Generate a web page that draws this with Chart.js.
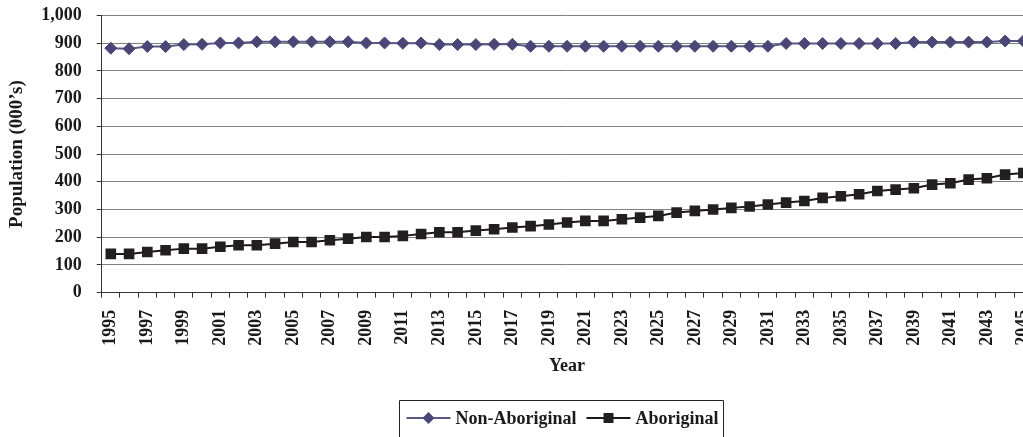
<!DOCTYPE html>
<html>
<head>
<meta charset="utf-8">
<script src="https://cdn.jsdelivr.net/npm/chart.js@4"></script>
<style>
  html, body { margin: 0; padding: 0; background: #fff; overflow: hidden; }
  #clip { width: 1023px; height: 437px; overflow: hidden; position: relative; }
  #myChart { display: block; }
</style>
</head>
<body>
<div id="clip"><canvas id="myChart" width="1040" height="437"></canvas></div>
<script>
var years = ['1995', '1996', '1997', '1998', '1999', '2000', '2001', '2002', '2003', '2004',
             '2005', '2006', '2007', '2008', '2009', '2010', '2011', '2012', '2013', '2014',
             '2015', '2016', '2017', '2018', '2019', '2020', '2021', '2022', '2023', '2024',
             '2025', '2026', '2027', '2028', '2029', '2030', '2031', '2032', '2033', '2034',
             '2035', '2036', '2037', '2038', '2039', '2040', '2041', '2042', '2043', '2044',
             '2045'];

var nonAboriginal = [882, 880, 888, 888, 895, 896, 901, 901, 905, 905,
                     905, 905, 905, 905, 901, 901, 900, 901, 895, 895,
                     895, 896, 896, 889, 889, 889, 889, 889, 889, 889,
                     889, 889, 889, 889, 889, 889, 889, 899, 899, 899,
                     899, 899, 899, 899, 904, 904, 904, 904, 904, 908,
                     908];

var aboriginal = [140, 140, 147, 153, 159, 159, 166, 171, 171, 177,
                  183, 183, 189, 195, 201, 201, 205, 212, 218, 218,
                  224, 229, 235, 240, 246, 253, 259, 259, 265, 271,
                  277, 289, 295, 300, 306, 311, 318, 325, 331, 342,
                  348, 355, 367, 372, 377, 390, 395, 408, 413, 426,
                  432];

var yTicks = [0, 100, 200, 300, 400, 500, 600, 700, 800, 900, 1000];

var serif = 'Liberation Serif';

// legend drawn by hand: line + marker sample like the original
var lineLegend = {
    id: 'lineLegend',
    afterDraw: function(chart) {
        var ctx = chart.ctx;
        ctx.save();
        ctx.font = 'bold 18px "' + serif + '"';
        var sample = 44, gapText = 5, gapItem = 10, padL = 7, padR = 5;
        var items = chart.data.datasets;
        var total = padL + padR;
        items.forEach(function(ds, i) {
            total += sample + gapText + ctx.measureText(ds.label).width;
            if (i > 0) total += gapItem;
        });
        var left = 399.5;
        var top = 400.5;
        ctx.strokeStyle = '#222';
        ctx.lineWidth = 1;
        ctx.beginPath();
        ctx.moveTo(left, chart.height + 2);
        ctx.lineTo(left, top);
        ctx.lineTo(left + total, top);
        ctx.lineTo(left + total, chart.height + 2);
        ctx.stroke();

        var x = left + padL;
        var y = 418;
        items.forEach(function(ds, i) {
            if (i > 0) x += gapItem;
            ctx.strokeStyle = ds.borderColor;
            ctx.lineWidth = 2;
            ctx.beginPath();
            ctx.moveTo(x, y);
            ctx.lineTo(x + sample, y);
            ctx.stroke();
            var mx = x + sample / 2;
            ctx.fillStyle = ds.pointBackgroundColor;
            if (ds.pointStyle === 'rectRot') {
                var r = 6;
                ctx.beginPath();
                ctx.moveTo(mx, y - r);
                ctx.lineTo(mx + r, y);
                ctx.lineTo(mx, y + r);
                ctx.lineTo(mx - r, y);
                ctx.closePath();
                ctx.fill();
            } else {
                ctx.fillRect(mx - 5, y - 5, 10, 10);
            }
            x += sample + gapText;
            ctx.fillStyle = '#1a1a1a';
            ctx.textBaseline = 'middle';
            ctx.textAlign = 'left';
            ctx.fillText(ds.label, x, y + 1);
            x += ctx.measureText(ds.label).width;
        });
        ctx.restore();
    }
};

var ctx = document.getElementById('myChart').getContext('2d');
var myChart = new Chart(ctx, {
    type: 'line',
    data: {
        labels: years,
        datasets: [{
            label: 'Non-Aboriginal',
            data: nonAboriginal,
            borderColor: '#5b5889',
            borderWidth: 2,
            pointStyle: 'rectRot',
            pointRadius: 6,
            pointBackgroundColor: '#4a4777',
            pointBorderColor: '#4a4777',
            pointBorderWidth: 1,
            tension: 0
        }, {
            label: 'Aboriginal',
            data: aboriginal,
            borderColor: '#1a1a1a',
            borderWidth: 2,
            pointStyle: 'rect',
            pointRadius: 7.5,
            pointBackgroundColor: '#231f20',
            pointBorderColor: '#231f20',
            pointBorderWidth: 0,
            tension: 0
        }]
    },
    options: {
        responsive: false,
        animation: false,
        layout: {
            padding: { top: 15.5, right: 3.5, left: 0, bottom: 60 }
        },
        plugins: {
            legend: { display: false },
            tooltip: { enabled: false }
        },
        scales: {
            x: {
                offset: true,
                afterFit: function(s) {
                    s.height = 84.3;
                    s.paddingLeft = 0;
                    s.paddingRight = 0;
                },
                grid: {
                    offset: true,
                    drawOnChartArea: false,
                    drawTicks: true,
                    tickLength: 5,
                    color: '#333'
                },
                border: { color: '#333', width: 1 },
                ticks: {
                    autoSkip: false,
                    minRotation: 90,
                    maxRotation: 90,
                    padding: 12,
                    color: '#1a1a1a',
                    font: { family: serif, size: 18, weight: 'bold' },
                    callback: function(v, i) { return i % 2 === 0 ? years[i] : ''; }
                },
                title: {
                    display: true,
                    text: 'Year',
                    color: '#1a1a1a',
                    padding: { top: 4, bottom: 0 },
                    font: { family: serif, size: 18, weight: 'bold' }
                }
            },
            y: {
                min: 0,
                max: 1000,
                afterFit: function(s) {
                    s.width = 101.7;
                    s.paddingTop = 0;
                    s.paddingBottom = 0;
                },
                afterBuildTicks: function(s) {
                    s.ticks = yTicks.map(function(v) { return { value: v }; });
                },
                grid: {
                    color: '#808080',
                    lineWidth: 1,
                    drawTicks: true,
                    tickLength: 5,
                    tickColor: '#333'
                },
                border: { color: '#333', width: 1 },
                ticks: {
                    padding: 15,
                    color: '#1a1a1a',
                    font: { family: serif, size: 18, weight: 'bold' },
                    callback: function(v) { return v.toLocaleString('en-US'); }
                },
                title: {
                    display: true,
                    text: 'Population (000\u2019s)',
                    color: '#1a1a1a',
                    padding: { top: 6, bottom: 0 },
                    font: { family: serif, size: 19, weight: 'bold' }
                }
            }
        }
    },
    plugins: [lineLegend]
});
</script>
</body>
</html>
